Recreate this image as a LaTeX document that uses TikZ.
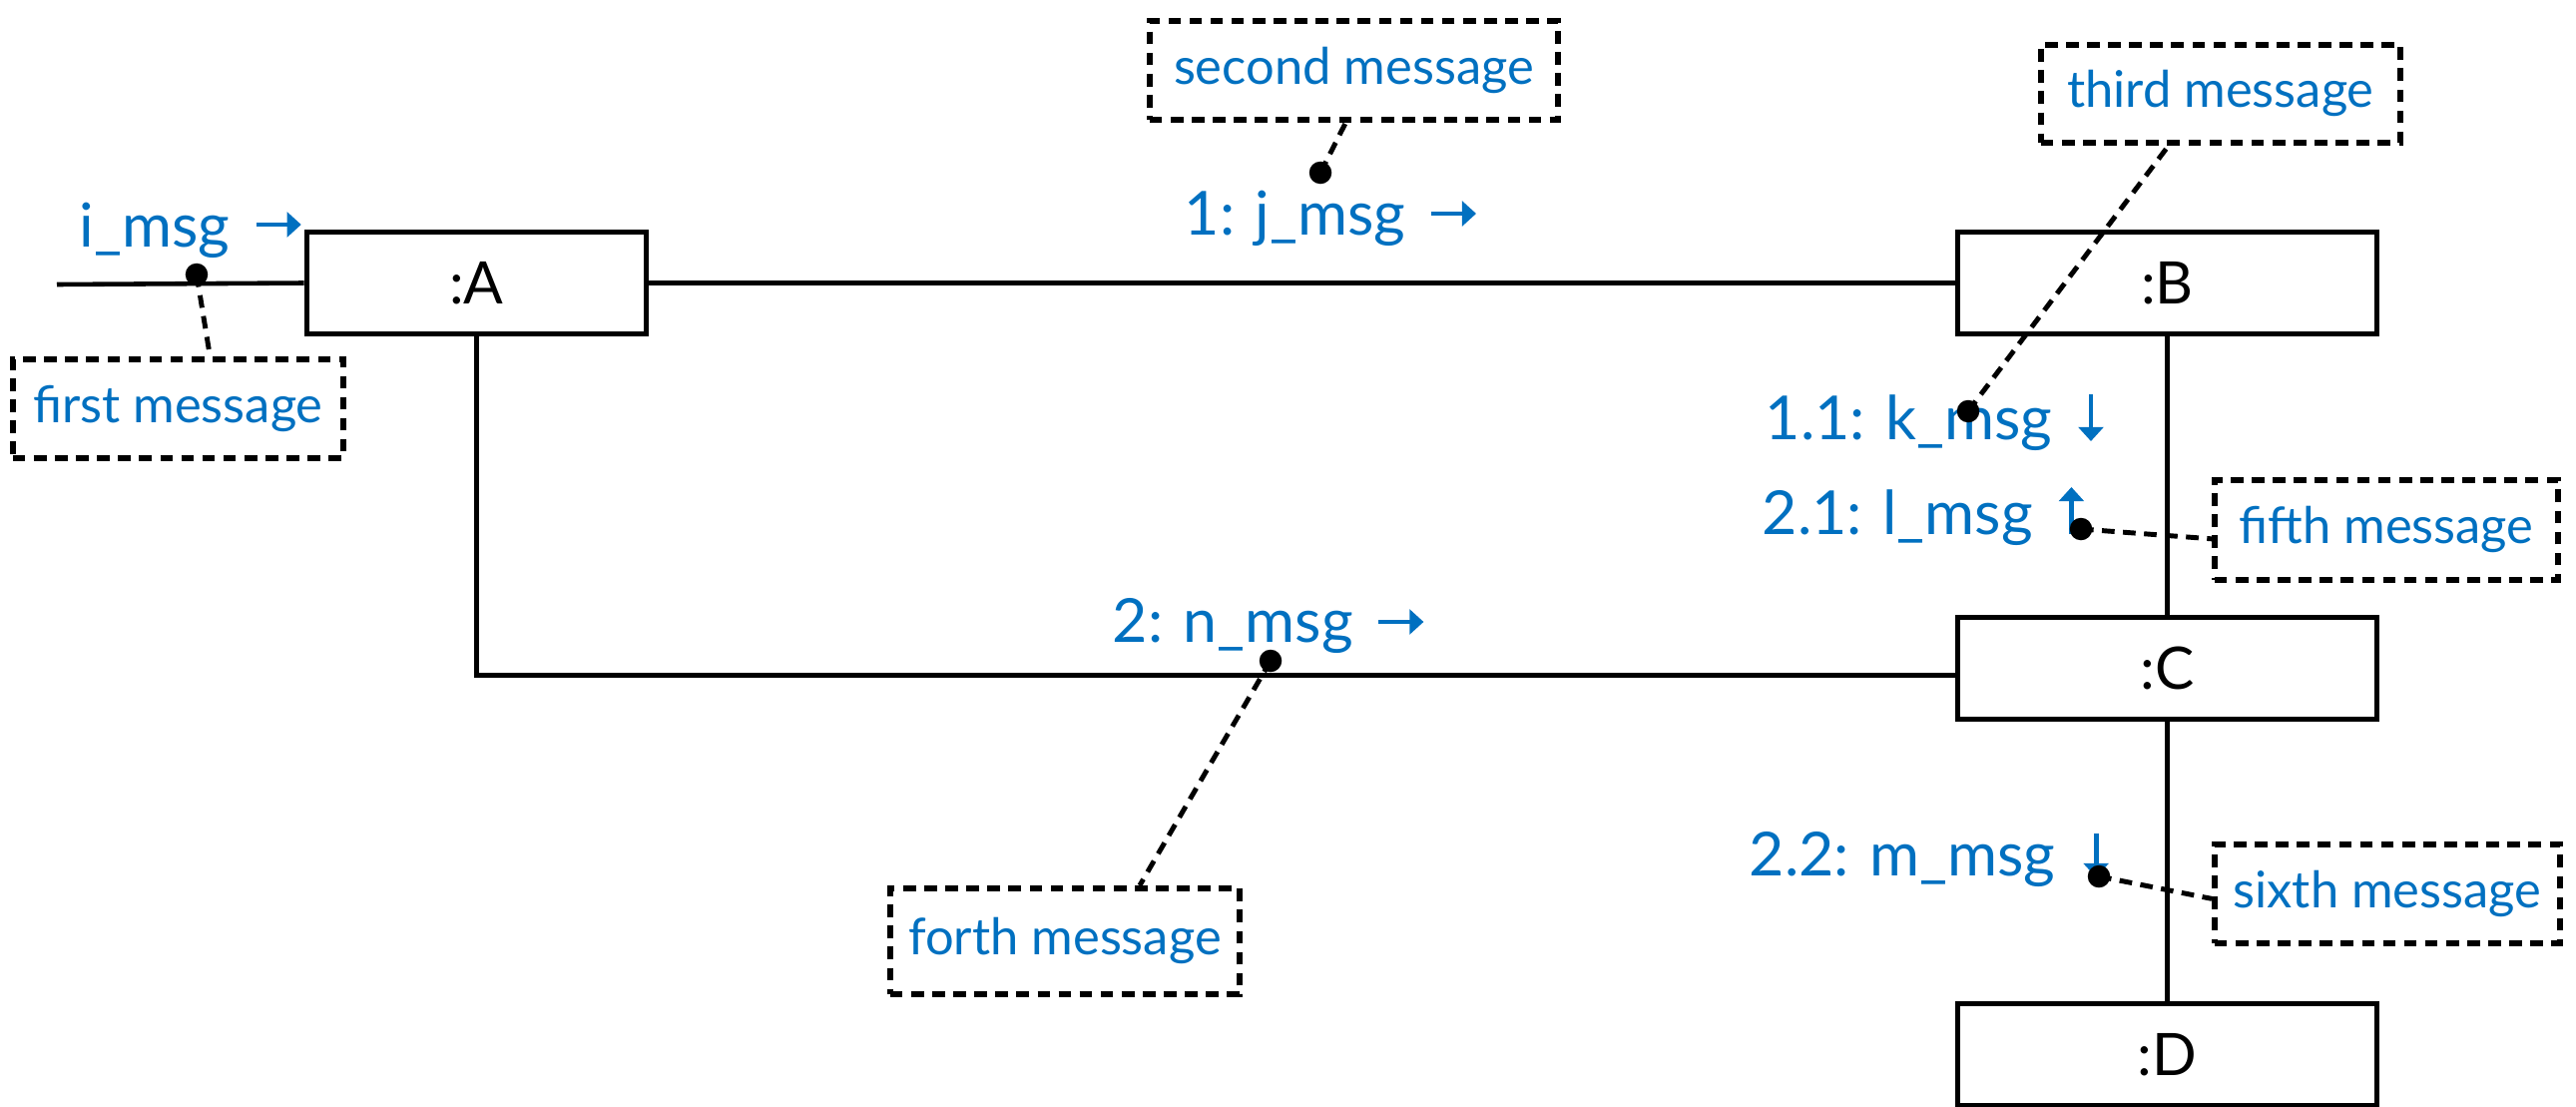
\documentclass[tikz,border=0pt]{standalone}
\usepackage{fontspec}
\setmainfont{Lato}
\usetikzlibrary{arrows.meta,calc}
\definecolor{msgblue}{RGB}{0,112,192}
\begin{document}
\begin{tikzpicture}[x=0.01cm,y=-0.01cm,
  obj/.style={draw,line width=1.6pt,fill=white,inner sep=0pt,
    minimum height=1.02cm,font=\fontsize{16.7pt}{20pt}\selectfont},
  link/.style={line width=1.3pt},
  note/.style={draw,line width=1.6pt,dash pattern=on 3.6pt off 2.4pt,
    text=msgblue,anchor=north west,inner sep=0pt,
    font=\fontsize{14.4pt}{18pt}\selectfont},
  msg/.style={text=msgblue,anchor=base west,inner sep=0pt,
    font=\fontsize{17.3pt}{21pt}\selectfont},
  msgarrow/.style={draw=msgblue,line width=1.4pt,
    -{Triangle[width=7pt,length=4pt]}},
  leader/.style={line width=1.4pt,dash pattern=on 3.6pt off 2.4pt},
  dotmark/.style={fill=black}
]
\useasboundingbox (0,0) rectangle (2581,1109);
\clip (0,0) rectangle (2581,1109);

% objects
\node[obj,minimum width=3.40cm] (A) at (477.5,283.5) {:A};
\node[obj,minimum width=4.20cm] (B) at (2171.5,283.5) {:B};
\node[obj,minimum width=4.20cm] (C) at (2171.5,669.5) {:C};
\node[obj,minimum width=4.20cm] (D) at (2171.5,1056.5) {:D};

% links between objects
\coordinate (entry) at (57,285);
\draw[link] (entry) -- (A.west);
\draw[link] (A) -- (B);
\draw[link] (A.south) |- ([yshift=-2pt]C.west);
\draw[link] (B) -- (C);
\draw[link] (C) -- (D);

% notes
\node[note,minimum width=3.31cm,minimum height=0.99cm] (n1) at (10,357) {first message};
\node[note,minimum width=4.09cm,minimum height=0.99cm] (n2) at (1149,18) {second message};
\node[note,minimum width=3.60cm,minimum height=0.98cm] (n3) at (2042,42) {third message};
\node[note,minimum width=3.50cm,minimum height=1.06cm] (n4) at (889,887) {forth message};
\node[note,minimum width=3.44cm,minimum height=1.00cm] (n5) at (2216,478) {fifth message};
\node[note,minimum width=3.46cm,minimum height=0.99cm] (n6) at (2216,843) {sixth message};

% message labels
\node[msg] (m1) at (79,247) {i\_msg};
\node[msg] (m2) at (1186,235) {1: j\_msg};
\node[msg] (m3) at (1768,440) {1.1: k\_msg};
\node[msg] (m4) at (1765,535) {2.1: l\_msg};
\node[msg] (m5) at (1114,643) {2: n\_msg};
\node[msg] (m6) at (1752,877) {2.2: m\_msg};

% direction arrows
\draw[msgarrow] ($(m1.base east)+(26,-22)$) -- ++(45,0);
\draw[msgarrow] ($(m2.base east)+(25,-21)$) -- ++(45,0);
\draw[msgarrow] ($(m3.base east)+(38,-45)$) -- ++(0,47);
\draw[msgarrow] ($(m4.base east)+(38,0)$) -- ++(0,-47);
\draw[msgarrow] ($(m5.base east)+(25,-20)$) -- ++(45,0);
\draw[msgarrow] ($(m6.base east)+(40,-42)$) -- ++(0,44);

% anchor points of the notes
\coordinate (d1) at (197,275);
\coordinate (d2) at (1323,173);
\coordinate (d3) at (1972,412);
\coordinate (d4) at (1273,662);
\coordinate (d5) at (2085,530);
\coordinate (d6) at (2103,878);

\draw[leader] (d1) -- ($(n1.north)+(32,0)$);
\draw[leader] (d2) -- ($(n2.south)+(-8,0)$);
\draw[leader] (d3) -- ($(n3.south)+(-52,0)$);
\draw[leader] (d4) -- ($(n4.north)+(75,0)$);
\draw[leader] (d5) -- ($(n5.west)+(0,9)$);
\draw[leader] (d6) -- ($(n6.west)+(0,5)$);

\foreach \d in {d1,d2,d3,d4,d5,d6}
  \fill[dotmark] (\d) circle[radius=3.2pt];
\end{tikzpicture}
\end{document}
